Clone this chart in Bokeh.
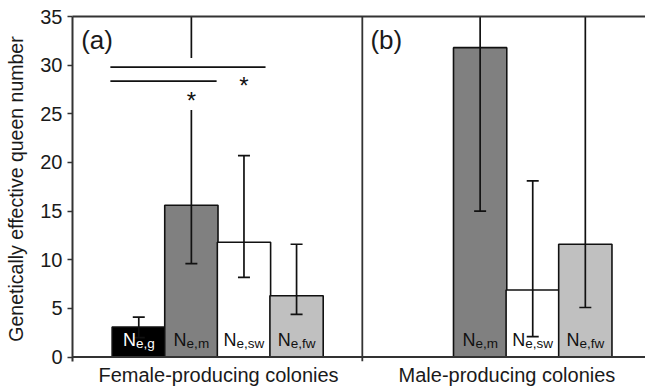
from bokeh.plotting import figure
from bokeh.models import Range1d, LinearAxis, FixedTicker, ColumnDataSource, Span
from bokeh.core.properties import value
from bokeh.embed import file_html
from bokeh.resources import INLINE

# ---------------- data ----------------
group_labels = ["Female-producing colonies", "Male-producing colonies"]
panel_labels = ["(a)", "(b)"]

female_subs = ["e,g", "e,m", "e,sw", "e,fw"]
female_values = [3.1, 15.6, 11.8, 6.3]
female_err_low = [2.0, 9.6, 8.2, 4.4]
female_err_high = [4.1, 40.0, 20.7, 11.6]

male_subs = ["e,m", "e,sw", "e,fw"]
male_values = [31.8, 6.9, 11.6]
male_err_low = [15.0, 2.1, 5.1]
male_err_high = [40.0, 18.1, 40.0]

y_ticks = [0, 5, 10, 15, 20, 25, 30, 35]

# significance annotations (y levels of bracket lines, in data units)
sig_levels = [29.8, 28.36]
sig_marks = ["*", "*"]

# ---------------- styling ----------------
FONT = "Liberation Sans"
AX = "#333333"
TXT = "#1a1a1a"
fill_for = {"e,g": "#000000", "e,m": "#808080", "e,sw": "#ffffff", "e,fw": "#c0c0c0"}
text_for = {"e,g": "#ffffff", "e,m": "#111111", "e,sw": "#111111", "e,fw": "#111111"}
char_w = {"e": .556, ",": .278, "g": .556, "m": .833, "s": .5, "w": .722, "f": .278}

X_END = 10.894
p = figure(width=645, height=388, x_range=Range1d(0, X_END), y_range=Range1d(-0.45, 35),
           output_backend="svg", toolbar_location=None,
           min_border_left=72, min_border_right=0, min_border_top=16, min_border_bottom=27)
p.grid.visible = False
p.outline_line_color = None
p.background_fill_color = "white"
p.border_fill_color = "white"

# y axis
ya = p.yaxis[0]
ya.ticker = FixedTicker(ticks=y_ticks)
ya.major_tick_out = 5
ya.major_tick_in = 0
ya.minor_tick_line_color = None
ya.axis_line_width = 2
ya.axis_line_color = AX
ya.major_tick_line_width = 1.5
ya.major_tick_line_color = AX
ya.major_label_text_font = FONT
ya.major_label_text_font_size = "20px"
ya.major_label_text_color = TXT
ya.major_label_standoff = 5
ya.axis_label = "Genetically effective queen number"
ya.axis_label_text_font = FONT
ya.axis_label_text_font_size = "19.5px"
ya.axis_label_text_font_style = "normal"
ya.axis_label_text_color = TXT
ya.axis_label_standoff = 10

# x axis: group labels only
group_centers = [2.776, 8.26]
xa = p.xaxis[0]
xa.ticker = FixedTicker(ticks=group_centers)
xa.major_label_overrides = {c: lab for c, lab in zip(group_centers, group_labels)}
xa.axis_line_color = None
xa.major_tick_line_color = None
xa.minor_tick_line_color = None
xa.major_tick_out = 0
xa.major_tick_in = 0
xa.minor_tick_out = 0
xa.minor_tick_in = 0
xa.major_label_text_font = FONT
xa.major_label_text_font_size = "20px"
xa.major_label_text_color = TXT
xa.major_label_standoff = 2

# top frame line
top = LinearAxis(ticker=FixedTicker(ticks=[]), axis_line_width=2, axis_line_color=AX,
                 major_tick_line_color=None, minor_tick_line_color=None,
                 major_label_text_font_size="0px")
p.add_layout(top, "above")

# baseline and divider
p.add_layout(Span(location=0, dimension="width", line_color=AX, line_width=2))
p.add_layout(Span(location=5.51, dimension="height", line_color=AX, line_width=1.8))

# ---------------- bars ----------------
xs = [1.26 + i for i in range(len(female_values))] + [7.75 + i for i in range(len(male_values))]
subs = female_subs + male_subs
vals = female_values + male_values
lows = female_err_low + male_err_low
highs = female_err_high + male_err_high

N_SIZE = 18.0
SUB_SIZE = 13.5
wN = 0.722 * N_SIZE
offs = []
for s in subs:
    wsub = sum(char_w[c] for c in s) * SUB_SIZE
    offs.append(-(wN + wsub) / 2 + wN)

src = ColumnDataSource(dict(
    x=xs, top=vals, low=lows, high=highs, sub=subs,
    fill=[fill_for[s] for s in subs], tcol=[text_for[s] for s in subs],
    N=["N"] * len(subs), off=offs,
    capl=[x - 0.114 for x in xs], capr=[x + 0.114 for x in xs],
    ny=[1.8] * len(subs), sy=[1.45] * len(subs),
))

p.vbar(x="x", top="top", bottom=0, width=1.013, fill_color="fill",
       line_color="#111111", line_width=1.6, source=src)

# error bars
p.segment(x0="x", y0="low", x1="x", y1="high", line_color="#111111", line_width=1.7, source=src)
p.segment(x0="capl", y0="low", x1="capr", y1="low", line_color="#111111", line_width=1.7, source=src)
p.segment(x0="capl", y0="high", x1="capr", y1="high", line_color="#111111", line_width=1.7, source=src)

# bar labels N_{sub}
p.text(x="x", y="ny", text="N", x_offset="off", text_align="right", text_baseline="alphabetic",
       text_font=value(FONT), text_font_size=f"{N_SIZE}px", text_color="tcol", source=src)
p.text(x="x", y="sy", text="sub", x_offset="off", text_align="left", text_baseline="alphabetic",
       text_font=value(FONT), text_font_size=f"{SUB_SIZE}px", text_color="tcol", source=src)

# ---------------- significance annotations ----------------
# white gap behind the annotation on the Ne,m whisker
p.quad(left=xs[1] - 0.1, right=xs[1] + 0.1, bottom=25.4, top=30.73,
       fill_color="white", line_color=None)
p.segment(x0=[0.72, 0.72], y0=sig_levels, x1=[3.67, 2.74], y1=sig_levels,
          line_color="#111111", line_width=1.8)
p.text(x=[3.26, xs[1]], y=[27.9, 26.4], text=sig_marks, text_align="center",
       text_baseline="alphabetic", text_font=value(FONT), text_font_size="24px",
       text_color="#111111")

# panel labels
p.text(x=[0.165, 5.665], y=[32.6, 32.6], text=panel_labels, text_align="left",
       text_baseline="alphabetic", text_font=value(FONT), text_font_size="26px",
       text_color=TXT)

open("out.html", "w").write(file_html(p, INLINE))
